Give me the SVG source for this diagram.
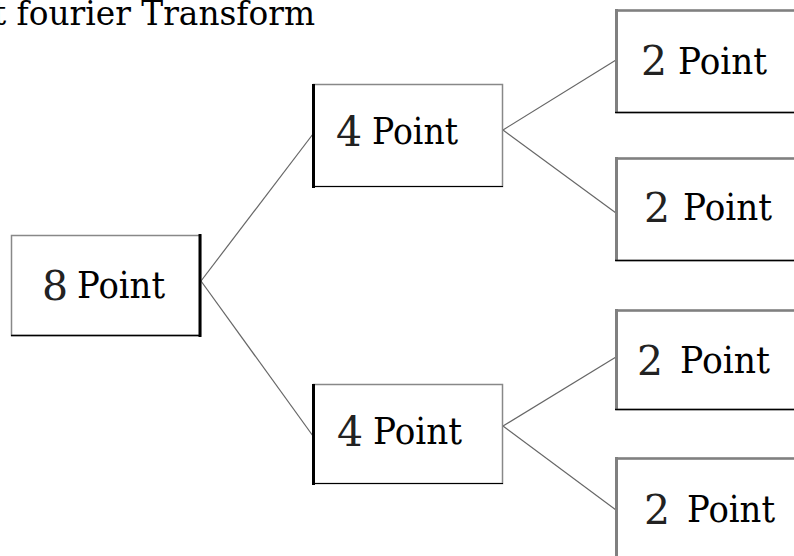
<svg xmlns="http://www.w3.org/2000/svg" width="794" height="556" viewBox="0 0 794 556">
<style>
.box{fill:#fff;stroke:#888;stroke-width:1.5}
.dk{stroke:#000;fill:none}
.gr{stroke:#808080;fill:none}
text{font-family:'DejaVu Serif','Liberation Serif',serif;fill:#000}
.p{font-size:37px}
.d{font-size:41px;fill:#222}
.c line{stroke:#666;stroke-width:1.2}
</style>
<rect width="794" height="556" fill="#fff"/>
<text x="-7" y="25" font-size="33" textLength="322" lengthAdjust="spacingAndGlyphs">t fourier Transform</text>
<g class="c" id="connectors">
<line x1="201" y1="281" x2="313" y2="134"/>
<line x1="201" y1="281" x2="313" y2="436"/>
<line x1="503" y1="130" x2="616" y2="60"/>
<line x1="503" y1="130" x2="616" y2="213"/>
<line x1="503" y1="426" x2="616" y2="357"/>
<line x1="503" y1="426" x2="616" y2="510"/>
</g>
<g id="n8">
<rect class="box" x="11.5" y="235.5" width="189" height="100"/>
<line class="dk" x1="200" y1="234" x2="200" y2="337" stroke-width="3"/>
<line class="dk" x1="11" y1="335.5" x2="201" y2="335.5" stroke-width="1.5"/>
<text class="d" x="42" y="300">8</text>
<text class="p" x="77" y="298" textLength="88" lengthAdjust="spacingAndGlyphs">Point</text>
</g>
<g id="n4a">
<rect class="box" x="313.5" y="84.5" width="189" height="102"/>
<line class="dk" x1="313.5" y1="84" x2="313.5" y2="188" stroke-width="3"/>
<line class="dk" x1="313" y1="186.5" x2="503" y2="186.5" stroke-width="1.2"/>
<text class="d" x="336" y="146">4</text>
<text class="p" x="372" y="144" textLength="86" lengthAdjust="spacingAndGlyphs">Point</text>
</g>
<g id="n4b">
<rect class="box" x="313.5" y="384.5" width="189" height="99"/>
<line class="dk" x1="313.5" y1="384" x2="313.5" y2="485" stroke-width="3"/>
<line class="dk" x1="313" y1="483.5" x2="503" y2="483.5" stroke-width="1.2"/>
<text class="d" x="337" y="446">4</text>
<text class="p" x="373" y="444" textLength="89" lengthAdjust="spacingAndGlyphs">Point</text>
</g>
<g id="n2a">
<rect class="box" x="616.5" y="10.5" width="190" height="102"/>
<line class="gr" x1="616.5" y1="9" x2="616.5" y2="113" stroke-width="3"/>
<line class="gr" x1="616" y1="10.5" x2="800" y2="10.5" stroke-width="2.5"/>
<line class="dk" x1="615" y1="112.5" x2="800" y2="112.5" stroke-width="1.5"/>
<text class="d" x="641" y="75">2</text>
<text class="p" x="678" y="74" textLength="89" lengthAdjust="spacingAndGlyphs">Point</text>
</g>
<g id="n2b">
<rect class="box" x="616.5" y="158.5" width="190" height="102"/>
<line class="gr" x1="616.5" y1="157" x2="616.5" y2="261" stroke-width="3"/>
<line class="gr" x1="616" y1="158.5" x2="800" y2="158.5" stroke-width="2.5"/>
<line class="dk" x1="615" y1="260.5" x2="800" y2="260.5" stroke-width="1.5"/>
<text class="d" x="644" y="222">2</text>
<text class="p" x="683" y="220" textLength="89" lengthAdjust="spacingAndGlyphs">Point</text>
</g>
<g id="n2c">
<rect class="box" x="616.5" y="310.5" width="190" height="99"/>
<line class="gr" x1="616.5" y1="309" x2="616.5" y2="410" stroke-width="3"/>
<line class="gr" x1="616" y1="310.5" x2="800" y2="310.5" stroke-width="2.5"/>
<line class="dk" x1="615" y1="409.5" x2="800" y2="409.5" stroke-width="1.5"/>
<text class="d" x="637" y="375">2</text>
<text class="p" x="680" y="373" textLength="90" lengthAdjust="spacingAndGlyphs">Point</text>
</g>
<g id="n2d">
<rect class="box" x="616.5" y="458.5" width="190" height="110"/>
<line class="gr" x1="616.5" y1="457" x2="616.5" y2="560" stroke-width="3"/>
<line class="gr" x1="616" y1="458.5" x2="800" y2="458.5" stroke-width="2.5"/>
<text class="d" x="644" y="524">2</text>
<text class="p" x="687" y="522" textLength="88" lengthAdjust="spacingAndGlyphs">Point</text>
</g>
</svg>
